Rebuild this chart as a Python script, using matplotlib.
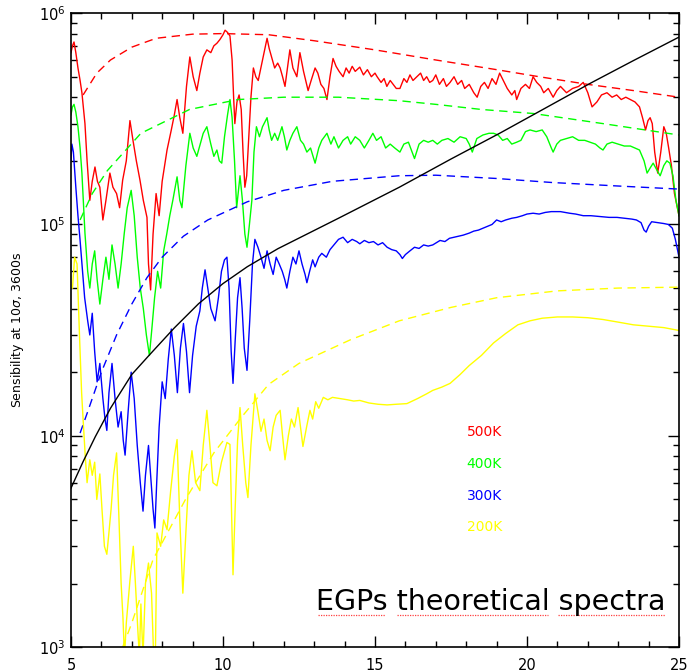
import numpy as np
import matplotlib.pyplot as plt
from matplotlib.ticker import MultipleLocator, LogLocator, NullFormatter

# ---- data (wavelength in micron, sensitivity) ----
red_x = [5.00, 5.05, 5.10, 5.16, 5.23, 5.30, 5.36, 5.46, 5.53, 5.62, 5.70, 5.79, 5.87, 5.95, 6.05, 6.15,
         6.28, 6.38, 6.50, 6.60, 6.70, 6.82, 6.94, 7.04, 7.15, 7.27, 7.38, 7.50, 7.55, 7.62, 7.70, 7.80,
         7.90, 8.00, 8.16, 8.30, 8.40, 8.49, 8.58, 8.68, 8.80, 8.91, 9.02, 9.14, 9.24, 9.35, 9.47, 9.60,
         9.70, 9.80, 9.90, 10.00, 10.07, 10.15, 10.23, 10.30, 10.35, 10.39, 10.46, 10.53, 10.60, 10.66,
         10.72, 10.78, 10.85, 10.92, 11.00, 11.08, 11.16, 11.30, 11.45, 11.52, 11.60, 11.70, 11.80, 11.88,
         11.96, 12.04, 12.12, 12.20, 12.30, 12.43, 12.53, 12.65, 12.80, 12.90, 13.03, 13.12, 13.22, 13.32,
         13.42, 13.52, 13.62, 13.72, 13.82, 13.95, 14.05, 14.15, 14.25, 14.35, 14.50, 14.62, 14.75, 14.88,
         15.00, 15.07, 15.20, 15.30, 15.39, 15.50, 15.60, 15.70, 15.82, 15.95, 16.05, 16.15, 16.25, 16.38,
         16.50, 16.60, 16.70, 16.80, 16.90, 17.00, 17.12, 17.25, 17.35, 17.47, 17.60, 17.72, 17.85, 17.95,
         18.10, 18.25, 18.36, 18.48, 18.60, 18.72, 18.85, 18.98, 19.10, 19.22, 19.35, 19.50, 19.60, 19.66,
         19.80, 19.95, 20.08, 20.20, 20.32, 20.45, 20.55, 20.70, 20.86, 20.98, 21.10, 21.30, 21.50, 21.70,
         21.85, 22.00, 22.14, 22.30, 22.45, 22.63, 22.80, 22.95, 23.10, 23.25, 23.40, 23.55, 23.70, 23.80,
         23.90, 23.98, 24.05, 24.12, 24.20, 24.30, 24.40, 24.50, 24.58, 24.66, 24.75, 24.85, 25.00]
red_y = [6.5e5, 7.0e5, 7.3e5, 6.5e5, 5.5e5, 4.8e5, 4.2e5, 3.0e5, 2.0e5, 1.3e5, 1.6e5, 1.87e5, 1.6e5, 1.5e5,
         1.05e5, 1.3e5, 1.75e5, 1.5e5, 1.4e5, 1.2e5, 1.62e5, 2.0e5, 3.1e5, 2.5e5, 2.0e5, 1.62e5, 1.3e5,
         1.08e5, 6.5e4, 4.9e4, 9.0e4, 1.4e5, 1.1e5, 1.6e5, 2.25e5, 2.8e5, 3.3e5, 3.9e5, 3.2e5, 2.7e5,
         4.5e5, 6.2e5, 5.0e5, 4.3e5, 5.2e5, 6.2e5, 6.7e5, 6.5e5, 7.0e5, 7.2e5, 7.5e5, 7.9e5, 8.3e5, 8.1e5,
         7.8e5, 6.0e5, 4.0e5, 3.0e5, 3.8e5, 4.1e5, 3.5e5, 2.2e5, 1.5e5, 1.7e5, 2.6e5, 4.0e5, 5.5e5, 5.0e5,
         4.8e5, 6.0e5, 7.6e5, 6.8e5, 6.2e5, 5.5e5, 5.8e5, 5.5e5, 5.0e5, 4.5e5, 5.5e5, 6.7e5, 5.5e5, 5.0e5,
         6.5e5, 5.3e5, 4.3e5, 4.8e5, 5.5e5, 5.2e5, 4.6e5, 4.4e5, 3.9e5, 5.0e5, 6.1e5, 5.6e5, 5.3e5, 5.0e5,
         5.5e5, 5.2e5, 5.6e5, 5.3e5, 5.55e5, 5.1e5, 5.4e5, 5.0e5, 5.2e5, 5.0e5, 4.7e5, 4.9e5, 4.5e5, 4.8e5,
         4.6e5, 4.4e5, 4.4e5, 4.9e5, 4.7e5, 5.1e5, 4.8e5, 5.0e5, 5.2e5, 4.8e5, 5.0e5, 4.7e5, 4.8e5, 5.1e5,
         4.6e5, 4.9e5, 4.5e5, 4.7e5, 5.0e5, 4.6e5, 4.8e5, 4.4e5, 4.6e5, 4.2e5, 4.0e5, 4.5e5, 4.7e5, 4.4e5,
         4.9e5, 4.6e5, 5.2e5, 4.8e5, 4.4e5, 4.1e5, 4.3e5, 3.9e5, 4.4e5, 4.6e5, 4.4e5, 5.0e5, 4.7e5, 4.5e5,
         4.2e5, 4.4e5, 4.0e5, 4.3e5, 4.5e5, 4.2e5, 4.4e5, 4.5e5, 4.7e5, 4.2e5, 3.6e5, 3.8e5, 4.1e5, 4.2e5,
         4.0e5, 4.1e5, 3.9e5, 4.0e5, 3.9e5, 3.8e5, 3.6e5, 3.2e5, 2.8e5, 3.1e5, 3.2e5, 3.0e5, 2.2e5, 1.75e5,
         2.2e5, 2.9e5, 2.7e5, 2.3e5, 1.9e5, 1.4e5, 1.1e5]

green_x = [5.00, 5.05, 5.10, 5.16, 5.23, 5.30, 5.36, 5.46, 5.55, 5.62, 5.70, 5.78, 5.86, 5.95, 6.05, 6.15,
           6.25, 6.35, 6.45, 6.55, 6.65, 6.75, 6.85, 6.98, 7.08, 7.18, 7.28, 7.38, 7.48, 7.58, 7.66, 7.75,
           7.85, 7.95, 8.05, 8.15, 8.25, 8.35, 8.49, 8.58, 8.65, 8.78, 8.91, 9.02, 9.14, 9.25, 9.35, 9.47,
           9.60, 9.70, 9.80, 9.88, 9.96, 10.05, 10.15, 10.23, 10.30, 10.38, 10.45, 10.52, 10.56, 10.64,
           10.72, 10.79, 10.87, 10.95, 11.02, 11.10, 11.20, 11.30, 11.45, 11.52, 11.60, 11.70, 11.80, 11.94,
           12.02, 12.10, 12.20, 12.30, 12.43, 12.55, 12.65, 12.76, 12.88, 13.03, 13.15, 13.25, 13.42, 13.55,
           13.65, 13.80, 13.95, 14.10, 14.20, 14.35, 14.50, 14.65, 14.80, 14.93, 15.05, 15.20, 15.35, 15.50,
           15.65, 15.82, 15.95, 16.10, 16.30, 16.45, 16.60, 16.75, 16.90, 17.05, 17.20, 17.40, 17.60, 17.80,
           18.00, 18.10, 18.20, 18.35, 18.55, 18.75, 18.90, 19.05, 19.20, 19.35, 19.50, 19.66, 19.80, 19.95,
           20.10, 20.30, 20.50, 20.65, 20.80, 20.86, 20.98, 21.10, 21.30, 21.50, 21.70, 21.90, 22.07, 22.25,
           22.40, 22.50, 22.63, 22.80, 23.00, 23.20, 23.40, 23.55, 23.70, 23.85, 23.95, 24.05, 24.15, 24.28,
           24.38, 24.50, 24.60, 24.70, 24.80, 24.90, 25.00]
green_y = [3.3e5, 3.6e5, 3.7e5, 3.4e5, 2.9e5, 2.3e5, 1.75e5, 9.1e4, 6.0e4, 5.0e4, 6.5e4, 7.5e4, 5.5e4, 4.2e4,
           5.5e4, 7.0e4, 5.5e4, 8.0e4, 6.5e4, 5.0e4, 6.5e4, 9.0e4, 1.2e5, 1.45e5, 1.1e5, 7.0e4, 5.0e4, 4.0e4,
           3.0e4, 2.4e4, 3.2e4, 4.5e4, 6.0e4, 5.0e4, 7.5e4, 9.0e4, 1.1e5, 1.3e5, 1.68e5, 1.3e5, 1.2e5, 1.9e5,
           2.7e5, 2.3e5, 2.1e5, 2.4e5, 2.7e5, 2.9e5, 2.4e5, 2.1e5, 2.25e5, 2.0e5, 1.95e5, 2.6e5, 3.3e5, 3.9e5,
           3.2e5, 2.0e5, 1.2e5, 1.5e5, 1.7e5, 1.3e5, 9.0e4, 7.8e4, 1.0e5, 1.3e5, 2.2e5, 2.9e5, 2.6e5, 2.9e5,
           3.2e5, 2.8e5, 2.5e5, 2.7e5, 2.5e5, 2.9e5, 2.6e5, 2.25e5, 2.5e5, 2.7e5, 2.9e5, 2.5e5, 2.4e5, 2.2e5,
           2.3e5, 1.95e5, 2.3e5, 2.5e5, 2.7e5, 2.4e5, 2.6e5, 2.3e5, 2.5e5, 2.6e5, 2.4e5, 2.6e5, 2.5e5, 2.3e5,
           2.5e5, 2.7e5, 2.5e5, 2.6e5, 2.3e5, 2.4e5, 2.3e5, 2.2e5, 2.4e5, 2.45e5, 2.05e5, 2.4e5, 2.5e5, 2.45e5,
           2.5e5, 2.4e5, 2.5e5, 2.55e5, 2.45e5, 2.6e5, 2.55e5, 2.4e5, 2.2e5, 2.55e5, 2.65e5, 2.7e5, 2.7e5,
           2.65e5, 2.5e5, 2.55e5, 2.4e5, 2.45e5, 2.5e5, 2.75e5, 2.8e5, 2.75e5, 2.8e5, 2.6e5, 2.3e5, 2.2e5,
           2.4e5, 2.5e5, 2.55e5, 2.6e5, 2.5e5, 2.5e5, 2.45e5, 2.4e5, 2.3e5, 2.25e5, 2.4e5, 2.45e5, 2.4e5,
           2.35e5, 2.35e5, 2.3e5, 2.25e5, 2.0e5, 1.75e5, 1.85e5, 1.95e5, 1.8e5, 1.7e5, 1.9e5, 2.0e5, 1.95e5,
           1.7e5, 1.3e5, 1.1e5]

blue_x = [5.00, 5.03, 5.08, 5.16, 5.23, 5.30, 5.38, 5.45, 5.55, 5.62, 5.70, 5.78, 5.86, 5.95, 6.05, 6.12,
          6.18, 6.25, 6.35, 6.45, 6.55, 6.65, 6.72, 6.78, 6.88, 6.98, 7.08, 7.18, 7.28, 7.37, 7.45, 7.55,
          7.62, 7.70, 7.76, 7.82, 7.90, 8.00, 8.10, 8.20, 8.30, 8.40, 8.50, 8.60, 8.70, 8.80, 8.90, 9.00,
          9.12, 9.24, 9.32, 9.41, 9.50, 9.60, 9.74, 9.85, 9.95, 10.05, 10.13, 10.20, 10.27, 10.33, 10.40,
          10.48, 10.56, 10.63, 10.70, 10.79, 10.88, 10.97, 11.05, 11.15, 11.25, 11.35, 11.45, 11.55, 11.65,
          11.75, 11.85, 11.95, 12.03, 12.10, 12.20, 12.30, 12.40, 12.50, 12.60, 12.70, 12.76, 12.85, 12.95,
          13.03, 13.15, 13.25, 13.40, 13.52, 13.65, 13.80, 13.95, 14.10, 14.25, 14.40, 14.50, 14.65, 14.80,
          14.95, 15.10, 15.25, 15.40, 15.55, 15.70, 15.82, 15.90, 16.00, 16.15, 16.30, 16.45, 16.60, 16.75,
          16.90, 17.14, 17.30, 17.45, 17.60, 17.75, 17.90, 18.10, 18.25, 18.40, 18.55, 18.70, 18.85, 19.00,
          19.15, 19.30, 19.50, 19.66, 19.85, 20.00, 20.20, 20.40, 20.60, 20.80, 21.10, 21.40, 21.60, 21.85,
          22.10, 22.40, 22.70, 22.96, 23.20, 23.45, 23.60, 23.75, 23.85, 23.92, 24.00, 24.10, 24.30, 24.50,
          24.65, 24.78, 24.88, 24.95, 25.00]
blue_y = [2.0e5, 2.4e5, 2.2e5, 1.5e5, 1.1e5, 8.4e4, 6.0e4, 4.5e4, 3.5e4, 3.0e4, 3.8e4, 2.5e4, 1.8e4, 2.2e4,
          1.5e4, 1.2e4, 1.06e4, 1.6e4, 2.2e4, 1.5e4, 1.1e4, 1.3e4, 9.5e3, 8.1e3, 1.3e4, 2.0e4, 1.5e4, 9.0e3,
          6.0e3, 4.4e3, 6.5e3, 9.0e3, 6.5e3, 4.5e3, 3.66e3, 6.0e3, 1.1e4, 1.8e4, 1.5e4, 2.3e4, 3.2e4, 2.4e4,
          1.6e4, 2.6e4, 3.4e4, 2.5e4, 1.6e4, 2.4e4, 3.3e4, 3.9e4, 5.0e4, 6.1e4, 5.0e4, 4.0e4, 3.5e4, 4.5e4,
          6.0e4, 6.8e4, 7.0e4, 5.0e4, 2.5e4, 1.77e4, 2.8e4, 4.5e4, 5.6e4, 4.0e4, 2.6e4, 2.04e4, 3.5e4, 6.5e4,
          8.5e4, 7.8e4, 7.0e4, 6.2e4, 7.5e4, 6.5e4, 5.8e4, 7.0e4, 6.5e4, 6.0e4, 5.5e4, 5.0e4, 6.0e4, 7.0e4,
          6.5e4, 7.5e4, 6.5e4, 5.8e4, 5.3e4, 6.0e4, 6.8e4, 6.3e4, 7.0e4, 7.3e4, 7.0e4, 7.6e4, 8.0e4, 8.5e4,
          8.7e4, 8.2e4, 8.5e4, 8.3e4, 8.1e4, 8.4e4, 8.2e4, 8.3e4, 8.0e4, 8.2e4, 7.8e4, 7.6e4, 7.5e4, 7.2e4,
          6.9e4, 7.2e4, 7.5e4, 7.8e4, 7.7e4, 8.0e4, 7.9e4, 8.0e4, 8.4e4, 8.3e4, 8.6e4, 8.7e4, 8.8e4, 8.9e4,
          9.1e4, 9.3e4, 9.4e4, 9.6e4, 9.8e4, 1.0e5, 1.05e5, 1.03e5, 1.05e5, 1.07e5, 1.08e5, 1.1e5, 1.12e5,
          1.13e5, 1.12e5, 1.14e5, 1.15e5, 1.15e5, 1.13e5, 1.12e5, 1.1e5, 1.1e5, 1.09e5, 1.08e5, 1.08e5,
          1.07e5, 1.06e5, 1.05e5, 1.02e5, 9.4e4, 9.2e4, 9.8e4, 1.03e5, 1.02e5, 1.01e5, 1.0e5, 9.6e4, 8.5e4,
          7.6e4, 7.0e4]

yellow_x = [5.05, 5.12, 5.20, 5.28, 5.35, 5.40, 5.47, 5.53, 5.62, 5.70, 5.78, 5.85, 5.95, 6.02, 6.10, 6.18,
            6.25, 6.32, 6.40, 6.50, 6.58, 6.65, 6.71, 6.76, 6.82, 6.94, 7.05, 7.12, 7.20, 7.25, 7.30, 7.37,
            7.45, 7.55, 7.65, 7.72, 7.78, 7.83, 7.95, 8.05, 8.16, 8.28, 8.40, 8.49, 8.58, 8.68, 8.78, 8.88,
            8.98, 9.10, 9.24, 9.35, 9.47, 9.57, 9.67, 9.80, 9.95, 10.13, 10.23, 10.28, 10.33, 10.40, 10.48,
            10.56, 10.65, 10.75, 10.82, 10.92, 11.05, 11.15, 11.25, 11.35, 11.45, 11.55, 11.65, 11.75, 11.88,
            11.96, 12.04, 12.15, 12.25, 12.35, 12.47, 12.55, 12.63, 12.75, 12.86, 12.95, 13.05, 13.15, 13.30,
            13.45, 13.60, 13.85, 14.10, 14.30, 14.50, 14.80, 15.10, 15.40, 15.70, 16.05, 16.40, 16.70, 16.90,
            17.20, 17.47, 17.80, 18.10, 18.50, 18.90, 19.30, 19.70, 20.10, 20.50, 21.00, 21.50, 22.00, 22.50,
            23.00, 23.50, 24.00, 24.50, 25.00]
yellow_y = [5.0e4, 7.0e4, 6.5e4, 3.0e4, 1.6e4, 1.19e4, 8.0e3, 6.0e3, 7.7e3, 6.5e3, 7.5e3, 5.0e3, 6.6e3,
            4.5e3, 3.0e3, 2.75e3, 3.5e3, 4.5e3, 6.5e3, 8.3e3, 4.0e3, 2.0e3, 1.38e3, 9.0e2, 1.3e3, 2.07e3,
            3.0e3, 2.0e3, 1.2e3, 9.0e2, 1.6e3, 9.0e2, 2.0e3, 2.5e3, 1.8e3, 9.0e2, 1.0e3, 3.47e3, 3.0e3, 4.0e3,
            3.6e3, 5.5e3, 8.0e3, 9.6e3, 4.0e3, 1.8e3, 3.5e3, 6.5e3, 8.5e3, 6.0e3, 5.5e3, 9.0e3, 1.32e4, 9.0e3,
            6.0e3, 5.8e3, 7.5e3, 9.3e3, 9.1e3, 4.5e3, 2.2e3, 4.5e3, 9.5e3, 1.36e4, 9.0e3, 6.0e3, 5.1e3, 9.0e3,
            1.58e4, 1.3e4, 1.05e4, 1.2e4, 9.5e3, 8.5e3, 1.1e4, 1.25e4, 1.32e4, 1.0e4, 7.7e3, 1.0e4, 1.2e4,
            1.1e4, 1.36e4, 1.1e4, 8.9e3, 1.1e4, 1.32e4, 1.2e4, 1.45e4, 1.35e4, 1.52e4, 1.48e4, 1.52e4, 1.5e4,
            1.48e4, 1.46e4, 1.47e4, 1.43e4, 1.41e4, 1.4e4, 1.41e4, 1.42e4, 1.5e4, 1.58e4, 1.64e4, 1.7e4,
            1.77e4, 1.95e4, 2.15e4, 2.4e4, 2.75e4, 3.05e4, 3.35e4, 3.5e4, 3.6e4, 3.65e4, 3.65e4, 3.62e4,
            3.55e4, 3.45e4, 3.35e4, 3.3e4, 3.25e4, 3.15e4]

# theoretical (dashed) curves
red_dash_x = [5.4, 5.85, 6.3, 7.0, 7.8, 9.0, 10.0, 11.5, 13.0, 15.0, 17.0, 19.0, 20.4, 22.0, 23.5, 25.0]
red_dash_y = [4.1e5, 5.2e5, 6.0e5, 6.9e5, 7.6e5, 7.95e5, 8.0e5, 7.9e5, 7.4e5, 6.7e5, 6.0e5, 5.4e5, 5.0e5,
              4.6e5, 4.3e5, 4.0e5]
green_dash_x = [5.3, 5.7, 6.2, 7.3, 8.9, 10.5, 12.0, 13.8, 15.8, 17.0, 18.5, 20.2, 22.5, 25.0]
green_dash_y = [1.05e5, 1.4e5, 1.8e5, 2.7e5, 3.5e5, 3.9e5, 4.0e5, 4.0e5, 3.85e5, 3.7e5, 3.5e5, 3.35e5,
                3.0e5, 2.65e5]
blue_dash_x = [5.3, 5.55, 6.0, 6.5, 7.0, 7.5, 8.0, 8.7, 9.5, 10.8, 12.0, 13.6, 15.8, 17.0, 19.0, 20.8,
               23.0, 25.0]
blue_dash_y = [1.03e4, 1.3e4, 2.0e4, 3.0e4, 4.2e4, 5.6e4, 7.0e4, 8.8e4, 1.05e5, 1.28e5, 1.45e5, 1.6e5,
               1.7e5, 1.71e5, 1.65e5, 1.58e5, 1.52e5, 1.47e5]
yellow_dash_x = [6.7, 7.0, 7.7, 8.8, 9.7, 10.6, 11.5, 12.5, 14.2, 15.8, 17.5, 19.0, 21.0, 23.0, 25.0]
yellow_dash_y = [1.0e3, 1.3e3, 2.6e3, 5.1e3, 8.3e3, 1.22e4, 1.75e4, 2.2e4, 2.85e4, 3.5e4, 4.05e4, 4.5e4,
                 4.85e4, 5.0e4, 5.05e4]

# instrument sensitivity (black)
sens_x = [5.0, 5.4, 5.8, 6.3, 7.0, 7.6, 8.4, 9.2, 10.0, 10.8, 11.8, 13.8, 15.8, 17.5, 19.1, 20.6, 22.1,
          23.5, 25.0]
sens_y = [5.65e3, 7.55e3, 9.9e3, 1.35e4, 1.95e4, 2.43e4, 3.24e4, 4.22e4, 5.25e4, 6.31e4, 7.67e4, 1.07e5,
          1.5e5, 2.04e5, 2.7e5, 3.55e5, 4.67e5, 5.96e5, 7.7e5]

temps = ['500K', '400K', '300K', '200K']
colors = ['#ff0000', '#00ff00', '#0000ff', '#ffff00']

fig = plt.figure(figsize=(6.89, 6.72), dpi=100)
ax = fig.add_axes([0.103, 0.037, 0.8825, 0.9435])

solid = [(red_x, red_y), (green_x, green_y), (blue_x, blue_y), (yellow_x, yellow_y)]
dashed = [(red_dash_x, red_dash_y), (green_dash_x, green_dash_y),
          (blue_dash_x, blue_dash_y), (yellow_dash_x, yellow_dash_y)]

for (xs, ys), (dx, dy), c in zip(solid, dashed, colors):
    ax.plot(xs, ys, color=c, lw=1.0)
    ax.plot(dx, dy, color=c, lw=1.0, dashes=(6, 4))
ax.plot(sens_x, sens_y, color='black', lw=1.0)

ax.set_yscale('log')
ax.set_xlim(5, 25)
ax.set_ylim(1e3, 1e6)

ax.xaxis.set_major_locator(MultipleLocator(5))
ax.xaxis.set_minor_locator(MultipleLocator(1))
ax.yaxis.set_major_locator(LogLocator(base=10))
ax.yaxis.set_minor_locator(LogLocator(base=10, subs=np.arange(2, 10)))
ax.yaxis.set_minor_formatter(NullFormatter())
ax.tick_params(which='both', direction='in', top=True, right=True, width=1.0)
ax.tick_params(which='major', length=8, labelsize=10.5)
ax.tick_params(which='minor', length=4.5)
ax.tick_params(axis='x', which='major', pad=8)
ax.tick_params(axis='y', which='major', pad=4)
for s in ax.spines.values():
    s.set_linewidth(1.2)

ax.set_ylabel(r'Sensibility at 10$\sigma$, 3600s', fontsize=9, labelpad=9)

for i, (t, c) in enumerate(zip(temps, colors)):
    ax.text(0.651, 0.339 - 0.050 * i, t, color=c, fontsize=10,
            transform=ax.transAxes, ha='left', va='center')

ax.text(0.691, 0.071, 'EGPs theoretical spectra', fontsize=20.5,
        transform=ax.transAxes, ha='center', va='center')

# spell-checker squiggles under the caption words
for x0, x1 in [(0.406, 0.516), (0.536, 0.785), (0.801, 0.977)]:
    ax.plot([x0, x1], [0.050, 0.050], color='#ff4040', lw=0.9, ls=(0, (1, 1)),
            transform=ax.transAxes)

fig.savefig('out.png', dpi=100)
